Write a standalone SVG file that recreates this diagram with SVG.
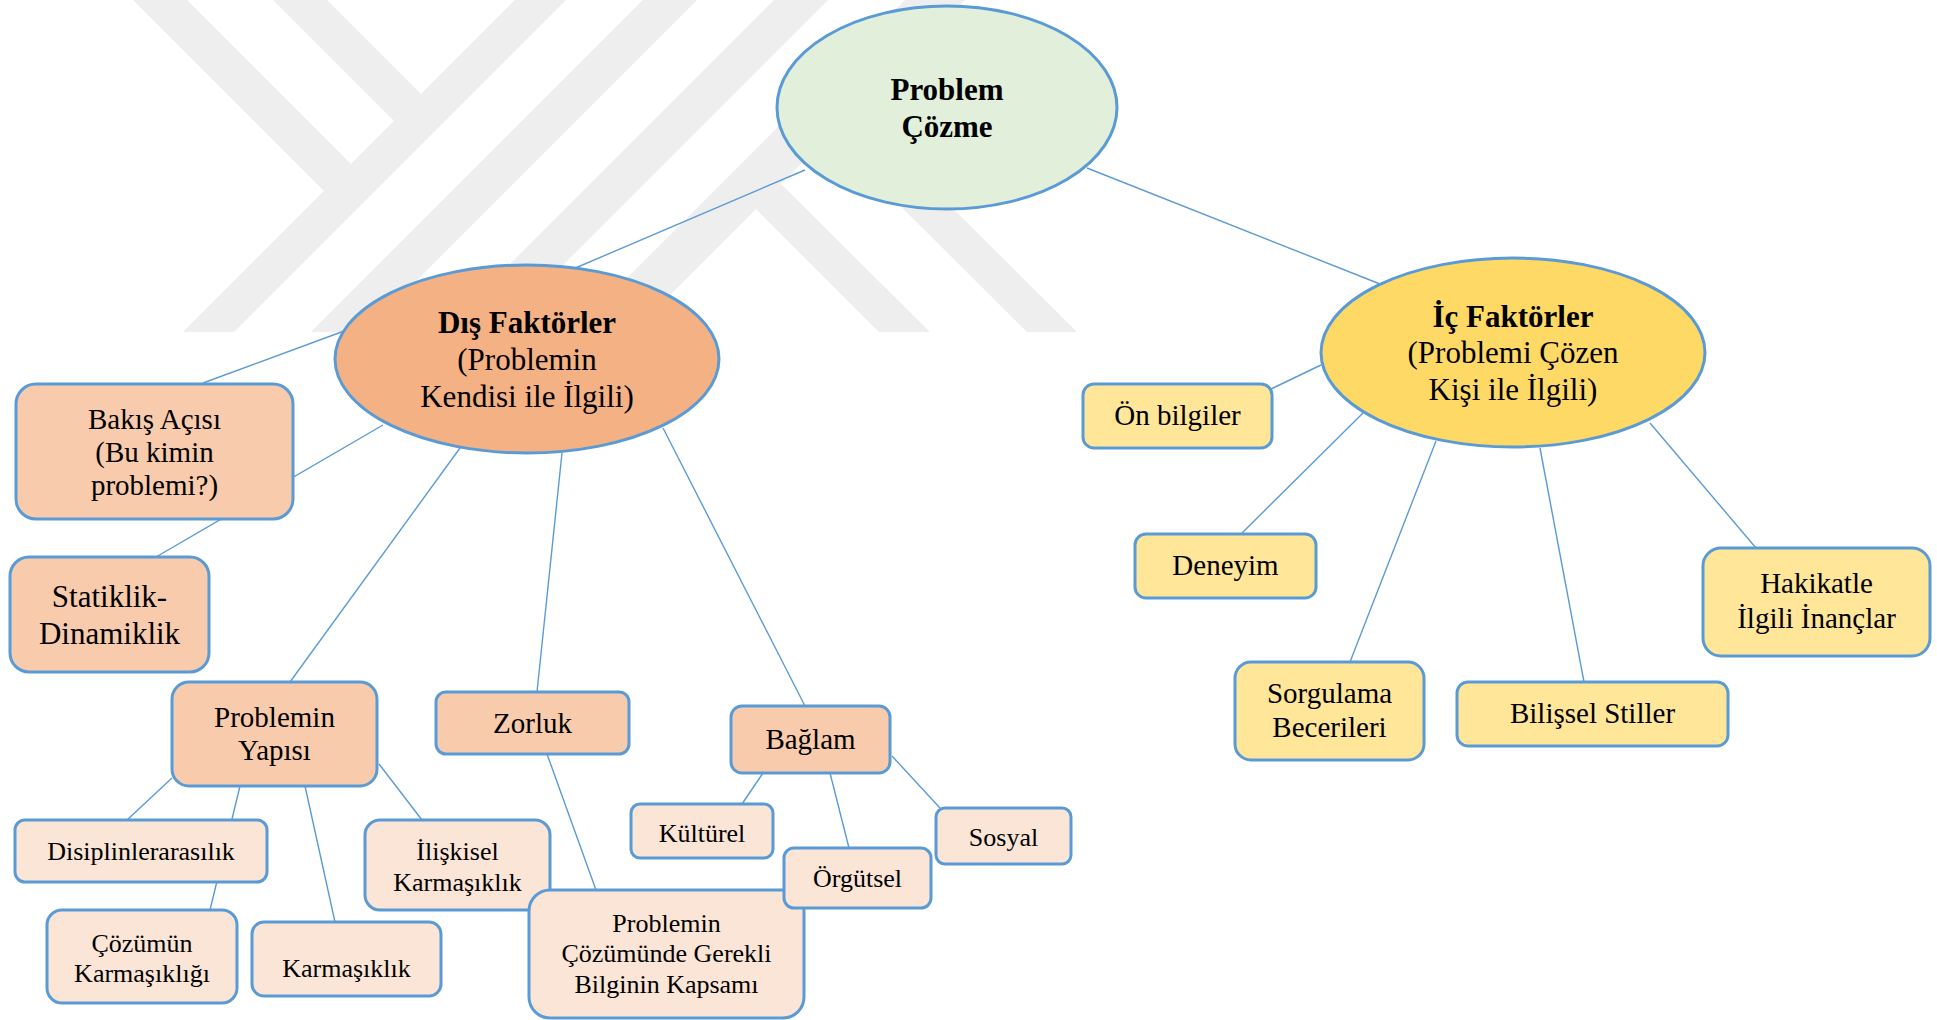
<svg xmlns="http://www.w3.org/2000/svg" width="1937" height="1020" viewBox="0 0 1937 1020">
  <style>
    .wm { fill: #eeeeee; }
    .edge { stroke: #5b9bd5; stroke-width: 1.4; fill: none; }
    .node { stroke: #5b9bd5; stroke-width: 3; }
    .root { fill: #e2efda; }
    .ext { fill: #f4b183; }
    .int { fill: #ffd966; }
    .l2 { fill: #f8cbad; }
    .l3 { fill: #fbe5d6; }
    .r2 { fill: #ffe699; }
    text { font-family: "Liberation Serif", "Times New Roman", serif; fill: #000; text-anchor: middle; }
    .t31 { font-size: 31px; }
    .b { font-weight: bold; }
    .t29 { font-size: 29px; }
    .t26 { font-size: 26px; }
  </style>

  <rect width="1937" height="1020" fill="#ffffff"/>

  <!-- background emblem: diagonal bands -->
  <g id="emblem" class="wm">
    <polygon points="133,0 187,0 351,164 324,191"/>
    <polygon points="273,0 327,0 421,94 394,121"/>
    <polygon points="515,0 566,0 234,332 183,332"/>
    <polygon points="643,0 697,0 365,332 311,332"/>
    <polygon points="774,0 828,0 496,332 442,332"/>
    <polygon points="905,0 965,0 633,332 573,332"/>
    <polygon points="781,184 930,332 879,332 756,209"/>
    <polygon points="852,108 1077,332 1027,332 827,133"/>
  </g>

  <!-- connectors -->
  <g id="connectors" class="edge">
    <line x1="805" y1="170" x2="566" y2="272"/>
    <line x1="1087" y1="168" x2="1380" y2="284"/>
    <line x1="355" y1="327" x2="203" y2="383"/>
    <line x1="383" y1="425" x2="156" y2="557"/>
    <line x1="460" y1="448" x2="290" y2="682"/>
    <line x1="562" y1="453" x2="537" y2="692"/>
    <line x1="663" y1="428" x2="805" y2="706"/>
    <line x1="172" y1="778" x2="127" y2="820"/>
    <line x1="240" y1="786" x2="210" y2="910"/>
    <line x1="305" y1="786" x2="335" y2="922"/>
    <line x1="379" y1="764" x2="422" y2="820"/>
    <line x1="547" y1="754" x2="596" y2="890"/>
    <line x1="763" y1="773" x2="742" y2="804"/>
    <line x1="830" y1="773" x2="849" y2="848"/>
    <line x1="892" y1="756" x2="940" y2="808"/>
    <line x1="1321" y1="365" x2="1271" y2="389"/>
    <line x1="1363" y1="413" x2="1241" y2="534"/>
    <line x1="1436" y1="441" x2="1350" y2="662"/>
    <line x1="1540" y1="448" x2="1584" y2="682"/>
    <line x1="1650" y1="423" x2="1756" y2="548"/>
  </g>

  <!-- root -->
  <g id="problem-cozme">
    <ellipse class="node root" cx="947" cy="107.5" rx="170" ry="101.5"/>
    <text class="t31 b" x="947" y="100">Problem</text>
    <text class="t31 b" x="947" y="137">Çözme</text>
  </g>

  <!-- external factors -->
  <g id="dis-faktorler">
    <ellipse class="node ext" cx="527" cy="359" rx="192" ry="94"/>
    <text class="t31 b" x="527" y="333">Dış Faktörler</text>
    <text class="t31" x="527" y="370">(Problemin</text>
    <text class="t31" x="527" y="407">Kendisi ile İlgili)</text>
  </g>

  <g id="bakis-acisi">
    <rect class="node l2" x="16" y="384" width="277" height="135" rx="20"/>
    <text class="t29" x="154.5" y="429">Bakış Açısı</text>
    <text class="t29" x="154.5" y="462">(Bu kimin</text>
    <text class="t29" x="154.5" y="495">problemi?)</text>
  </g>

  <g id="statiklik-dinamiklik">
    <rect class="node l2" x="10" y="557" width="199" height="115" rx="19"/>
    <text class="t31" x="109.5" y="607">Statiklik-</text>
    <text class="t31" x="109.5" y="644">Dinamiklik</text>
  </g>

  <g id="problemin-yapisi">
    <rect class="node l2" x="172" y="682" width="205" height="104" rx="17"/>
    <text class="t29" x="274.5" y="727">Problemin</text>
    <text class="t29" x="274.5" y="760">Yapısı</text>
  </g>

  <g id="zorluk">
    <rect class="node l2" x="436" y="692" width="193" height="62" rx="10"/>
    <text class="t29" x="532.5" y="733">Zorluk</text>
  </g>

  <g id="baglam">
    <rect class="node l2" x="731" y="706" width="159" height="67" rx="11"/>
    <text class="t29" x="810.5" y="749">Bağlam</text>
  </g>

  <g id="disiplinlerarasilik">
    <rect class="node l3" x="15" y="820" width="252" height="62" rx="10"/>
    <text class="t26" x="141" y="860">Disiplinlerarasılık</text>
  </g>

  <g id="cozumun-karmasikligi">
    <rect class="node l3" x="47" y="910" width="190" height="93" rx="15"/>
    <text class="t26" x="142" y="952">Çözümün</text>
    <text class="t26" x="142" y="982">Karmaşıklığı</text>
  </g>

  <g id="karmasiklik">
    <rect class="node l3" x="252" y="922" width="189" height="74" rx="12"/>
    <text class="t26" x="346.5" y="977">Karmaşıklık</text>
  </g>

  <g id="iliskisel-karmasiklik">
    <rect class="node l3" x="365" y="820" width="185" height="90" rx="15"/>
    <text class="t26" x="457.5" y="860">İlişkisel</text>
    <text class="t26" x="457.5" y="891">Karmaşıklık</text>
  </g>

  <g id="bilginin-kapsami">
    <rect class="node l3" x="529" y="890" width="275" height="128" rx="21"/>
    <text class="t26" x="666.5" y="932">Problemin</text>
    <text class="t26" x="666.5" y="962">Çözümünde Gerekli</text>
    <text class="t26" x="666.5" y="993">Bilginin Kapsamı</text>
  </g>

  <g id="kulturel">
    <rect class="node l3" x="631" y="804" width="142" height="54" rx="9"/>
    <text class="t26" x="702" y="842">Kültürel</text>
  </g>

  <g id="orgutsel">
    <rect class="node l3" x="784" y="848" width="147" height="60" rx="10"/>
    <text class="t26" x="857.5" y="887">Örgütsel</text>
  </g>

  <g id="sosyal">
    <rect class="node l3" x="936" y="808" width="135" height="56" rx="9"/>
    <text class="t26" x="1003.5" y="846">Sosyal</text>
  </g>

  <!-- internal factors -->
  <g id="ic-faktorler">
    <ellipse class="node int" cx="1513" cy="352.5" rx="192" ry="94.5"/>
    <text class="t31 b" x="1513" y="327">İç Faktörler</text>
    <text class="t31" x="1513" y="363">(Problemi Çözen</text>
    <text class="t31" x="1513" y="400">Kişi ile İlgili)</text>
  </g>

  <g id="on-bilgiler">
    <rect class="node r2" x="1083" y="384" width="189" height="64" rx="11"/>
    <text class="t29" x="1177.5" y="425">Ön bilgiler</text>
  </g>

  <g id="deneyim">
    <rect class="node r2" x="1135" y="534" width="181" height="64" rx="11"/>
    <text class="t29" x="1225.5" y="575">Deneyim</text>
  </g>

  <g id="sorgulama-becerileri">
    <rect class="node r2" x="1235" y="662" width="189" height="98" rx="16"/>
    <text class="t29" x="1329.5" y="703">Sorgulama</text>
    <text class="t29" x="1329.5" y="737">Becerileri</text>
  </g>

  <g id="bilissel-stiller">
    <rect class="node r2" x="1457" y="682" width="271" height="64" rx="11"/>
    <text class="t29" x="1592.5" y="723">Bilişsel Stiller</text>
  </g>

  <g id="hakikatle-ilgili-inanclar">
    <rect class="node r2" x="1703" y="548" width="227" height="108" rx="18"/>
    <text class="t29" x="1816.5" y="593">Hakikatle</text>
    <text class="t29" x="1816.5" y="628">İlgili İnançlar</text>
  </g>
</svg>
